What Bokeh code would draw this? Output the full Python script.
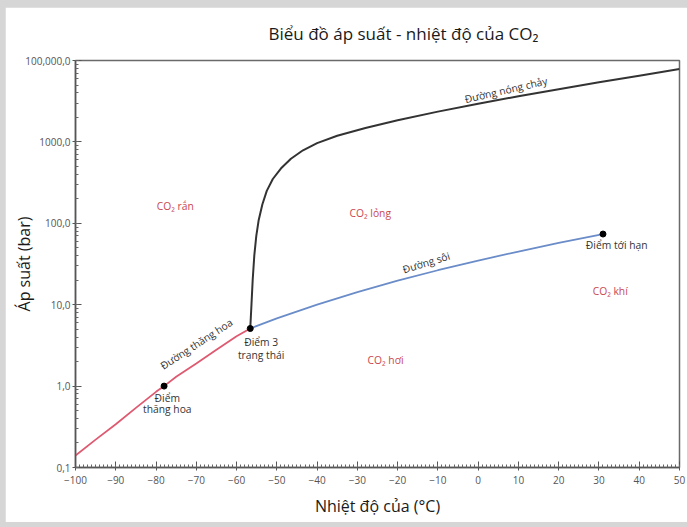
import math
from bokeh.plotting import figure
from bokeh.models import Range1d, Label, SingleIntervalTicker, LogTicker
from bokeh.layouts import column
from bokeh.embed import file_html
from bokeh.resources import INLINE

# ---------------- data ----------------
# sublimation curve (solid <-> gas)
subl_T = [-100, -95, -90, -85, -80, -78, -75, -70, -65, -60, -56.6]
subl_P = [0.14, 0.22, 0.34, 0.54, 0.85, 1.0, 1.3, 1.9, 2.8, 4.1, 5.1]
# boiling curve (liquid <-> gas)
boil_T = [-56.6, -50, -40, -30, -20, -10, 0, 10, 20, 31]
boil_P = [5.1, 6.8, 10.0, 14.3, 19.7, 26.5, 34.9, 45.0, 57.3, 73.8]
# melting curve (solid <-> liquid)
melt_T = [-56.6, -56.3, -56.0, -55.6, -55.1, -54.5, -53.6, -52.5, -51, -49, -46.5,
          -43.5, -40, -35, -28, -20, -10, 0, 10, 20, 30, 40, 50]
melt_P = [5.1, 10, 20, 40, 70, 110, 170, 250, 350, 470, 620,
          789, 966, 1189, 1479, 1841, 2355, 2951, 3639, 4446, 5395, 6516, 7852]
# special points
point_names = ["Điểm thăng hoa", "Điểm 3 trạng thái", "Điểm tới hạn"]
point_T = [-78, -56.6, 31]
point_P = [1.0, 5.1, 73.8]

y_tick_values = [0.1, 1, 10, 100, 1000, 10000]
y_tick_labels = ["0,1", "1,0", "10,0", "100,0", "1000,0", "100,000,0"]

title_text = "Biểu đồ áp suất - nhiệt độ của CO₂"
x_title = "Nhiệt độ của (°C)"
y_title = "Áp suất (bar)"

FONT = "Open Sans"
RED_TXT = "#c9474f"
SMALL = "10.3px"

p = figure(width=682, height=515,
           x_range=Range1d(-100, 50), y_range=Range1d(0.1, 10000),
           y_axis_type="log", output_backend="svg", toolbar_location=None,
           min_border_left=70, min_border_right=8, min_border_top=53, min_border_bottom=55)
p.background_fill_color = "white"
p.border_fill_color = "white"
p.xgrid.visible = False
p.ygrid.visible = False
p.outline_line_color = "#6a6a6a"
p.outline_line_width = 1.5

p.title.text = title_text
p.title.align = "left"
p.title.offset = 193
p.title.text_font = FONT
p.title.text_font_size = "17px"
p.title.text_font_style = "normal"
p.title.text_color = "#1a1a1a"
p.title.vertical_align = "top"
p.title.standoff = 28

p.xaxis.ticker = SingleIntervalTicker(interval=10, num_minor_ticks=10)
p.yaxis.ticker = LogTicker(num_minor_ticks=10)
p.yaxis.major_label_overrides = dict(zip(y_tick_values, y_tick_labels))
for ax in (p.xaxis, p.yaxis):
    ax.axis_line_color = "#555555"
    ax.axis_line_width = 1.5
    ax.major_tick_line_color = "#555555"
    ax.minor_tick_line_color = "#666666"
    ax.major_tick_in = 6
    ax.major_tick_out = 3
    ax.minor_tick_in = 3
    ax.minor_tick_out = 0
    ax.major_label_text_font = FONT
    ax.major_label_text_font_size = "10px"
    ax.major_label_text_color = "#555555"
    ax.axis_label_text_font = FONT
    ax.axis_label_text_font_size = "16px"
    ax.axis_label_text_font_style = "normal"
    ax.axis_label_text_color = "#1a1a1a"
p.xaxis.major_label_standoff = 5
p.yaxis.major_label_standoff = 2
p.xaxis.axis_label = x_title
p.xaxis.axis_label_standoff = 8
p.yaxis.axis_label = y_title
p.yaxis.axis_label_standoff = -13

# curves
p.line(subl_T, subl_P, line_color="#de5a70", line_width=1.8)
p.line(boil_T, boil_P, line_color="#6a8cc8", line_width=1.8)
p.line(melt_T, melt_P, line_color="#333333", line_width=2)
p.scatter(point_T, point_P, size=6, color="black")


def lab(x, y, text, size=SMALL, color="#333333", angle=0.0, align="center",
        baseline="middle", font=FONT):
    p.add_layout(Label(x=x, y=y, text=text, text_font=font, text_font_size=size,
                       text_color=color, angle=angle, angle_units="deg",
                       text_align=align, text_baseline=baseline))


# region labels
lab(-75.2, 162, "CO₂ rắn", color=RED_TXT)
lab(-26.8, 132, "CO₂ lỏng", color=RED_TXT)
lab(-23, 2.1, "CO₂ hơi", color=RED_TXT)
lab(32.8, 14.8, "CO₂ khí", color=RED_TXT)

# point labels
lab(-77.2, 0.72, "Điểm")
lab(-77.2, 0.52, "thăng hoa")
lab(-53.9, 3.46, "Điểm 3")
lab(-53.9, 2.38, "trạng thái")
lab(34.4, 53.7, "Điểm tới hạn")

# curve labels
lab(-70, 3.3, "Đường thăng hoa", angle=33)
lab(-12.9, 33, "Đường sôi", angle=17)
lab(6.9, 4360, "Đường nóng chảy", angle=13)

layout = column(p, styles={"background-color": "#d6d6d6", "padding": "7px 0px 5px 5px"})
open("out.html", "w").write(file_html(layout, INLINE))
